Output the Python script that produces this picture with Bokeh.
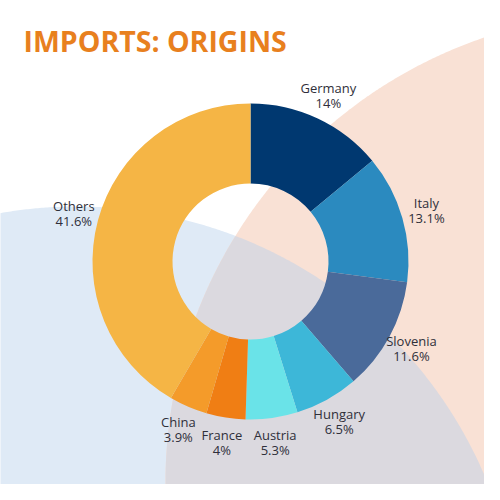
import numpy as np
from bokeh.plotting import figure
from bokeh.models import Range1d, ColumnDataSource
from bokeh.core.properties import value
from bokeh.embed import file_html
from bokeh.resources import INLINE

# ---- data ----
countries = ["Germany", "Italy", "Slovenia", "Hungary", "Austria", "France", "China", "Others"]
shares = [14.0, 13.1, 11.6, 6.5, 5.3, 4.0, 3.9, 41.6]
share_labels = ["14%", "13.1%", "11.6%", "6.5%", "5.3%", "4%", "3.9%", "41.6%"]
colors = ["#003870", "#2b8abf", "#4a6a9a", "#3db7d8", "#6ae3e8", "#f07e14", "#f49b2a", "#f5b545"]

title_text = "IMPORTS: ORIGINS"

# ---- layout (reference pixel space, y up) ----
H = 500
cx, cy = 258, H - 269
r_out, r_in = 158, 78
r_lab = 183

p = figure(width=484, height=484, output_backend="svg", toolbar_location=None,
           x_range=Range1d(8, 492), y_range=Range1d(8, 492),
           min_border=0, background_fill_color="white", border_fill_color="white")
p.axis.visible = False
p.grid.visible = False
p.outline_line_color = None

# background decorative circles
A = (84, H - 658, 444)   # light blue
B = (643, H - 490, 470)  # peach
t = np.linspace(0, 2 * np.pi, 1440, endpoint=False)
ax_ = A[0] + A[2] * np.cos(t); ay_ = A[1] + A[2] * np.sin(t)
bx_ = B[0] + B[2] * np.cos(t); by_ = B[1] + B[2] * np.sin(t)
p.patch(list(ax_), list(ay_), fill_color="#dfeaf6", line_color=None)
p.patch(list(bx_), list(by_), fill_color="#f9e1d5", line_color=None)
inA = (bx_ - A[0]) ** 2 + (by_ - A[1]) ** 2 <= A[2] ** 2
inB = (ax_ - B[0]) ** 2 + (ay_ - B[1]) ** 2 <= B[2] ** 2
lx = np.concatenate([ax_[inB], bx_[inA]]); ly = np.concatenate([ay_[inB], by_[inA]])
order = np.argsort(np.arctan2(ly - ly.mean(), lx - lx.mean()))
p.patch(list(lx[order]), list(ly[order]), fill_color="#dbd9df", line_color=None)

# donut
fr = np.array(shares) / sum(shares)
cum = np.concatenate([[0], np.cumsum(fr)])
start = np.pi / 2 - 2 * np.pi * cum[1:]
end = np.pi / 2 - 2 * np.pi * cum[:-1]
mid = (start + end) / 2
src = ColumnDataSource(dict(start=start, end=end, color=colors))
p.annular_wedge(x=cx, y=cy, inner_radius=r_in, outer_radius=r_out,
                start_angle="start", end_angle="end", fill_color="color",
                line_color=None, source=src)

# labels
lxp = cx + r_lab * np.cos(mid)
lyp = cy + r_lab * np.sin(mid)
p.text(x=list(lxp), y=list(lyp + 7.5), text=countries, text_align="center",
       text_baseline="middle", text_font=value("Open Sans"), text_font_size="13px",
       text_color="#2f2f3a")
p.text(x=list(lxp), y=list(lyp - 7.5), text=share_labels, text_align="center",
       text_baseline="middle", text_font=value("Open Sans"), text_font_size="13px",
       text_color="#2f2f3a")

# title
p.text(x=[31], y=[H - 48], text=[title_text], text_align="left",
       text_baseline="alphabetic", text_font=value("Open Sans"), text_font_size="28.5px",
       text_font_style="bold", text_color="#e8801e")

open("out.html", "w").write(file_html(p, INLINE))
